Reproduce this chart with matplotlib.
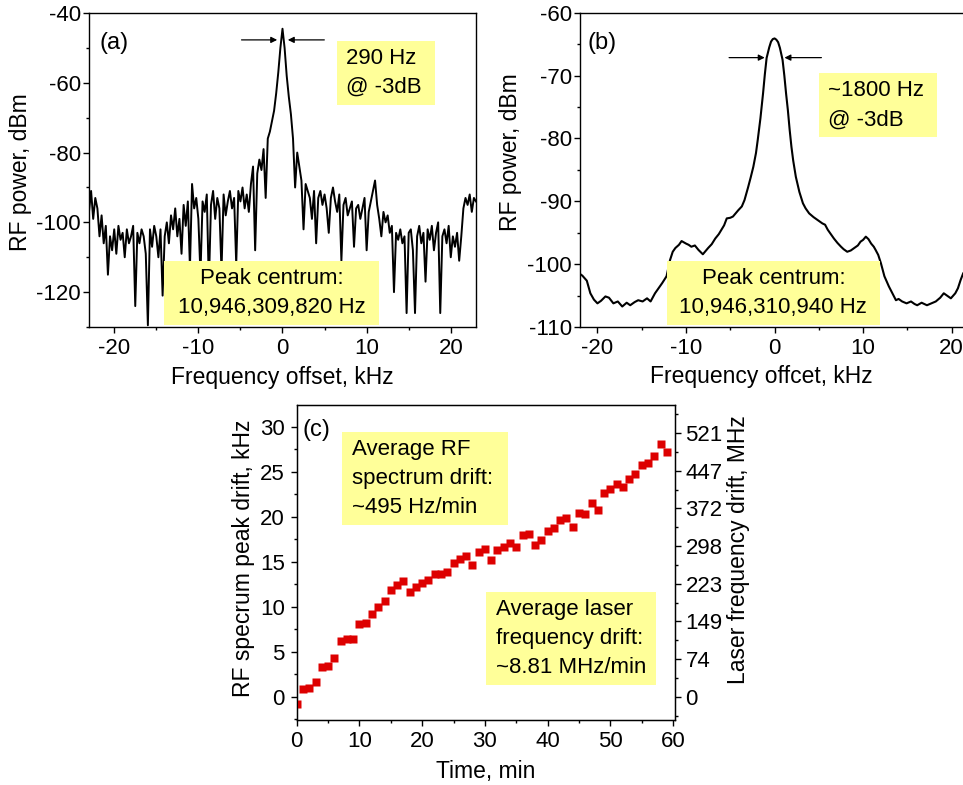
import matplotlib
matplotlib.use("Agg")
import matplotlib.pyplot as plt
import numpy as np
from matplotlib.ticker import MultipleLocator, FixedLocator
from matplotlib.patches import Rectangle

plt.rcParams['font.family'] = ['Liberation Sans', 'DejaVu Sans']
plt.rcParams['font.size'] = 16
plt.rcParams['axes.unicode_minus'] = False

# (a) RF spectrum, 0.25 kHz steps from -23 to 23 kHz
power_a = [
    -97, -91, -99, -93, -96, -104, -98, -106, -101, -115, -104, -108,
    -102, -109, -101, -105, -103, -110, -102, -106, -104, -101, -124, -103,
    -106, -102, -104, -109, -129.5, -102, -107, -101, -104, -110, -102, -121,
    -104, -100, -106, -98, -102, -96, -104, -99, -109, -95, -101, -94,
    -113, -89, -96, -93, -99, -115, -94, -97, -92, -118, -95, -91,
    -99, -93, -96, -114, -92, -98, -94, -91, -96, -93, -112, -91,
    -94, -90, -96, -92, -97, -89, -84, -108, -86, -82, -85, -79,
    -93, -76, -74, -71, -68, -63, -57, -50,
    -44.5,
    -50, -58, -64, -69, -76, -90, -80, -84, -88, -102, -89, -91,
    -93, -99, -91, -106, -93, -91, -95, -92, -96, -103, -93, -90,
    -94, -97, -92, -111, -95, -93, -98, -96, -94, -107, -96, -95,
    -99, -96, -93, -108, -97, -94, -91, -88, -95, -99, -104, -97,
    -100, -98, -103, -101, -120, -103, -105, -102, -106, -104, -126, -103,
    -102, -108, -126, -104, -101, -106, -103, -117, -102, -105, -101, -108,
    -103, -100, -126, -104, -102, -106, -101, -110, -104, -107, -103, -111,
    -104, -96, -93, -95, -92, -97, -93, -94,
]
freq_a = np.linspace(-23, 23, len(power_a))

# (b) RF spectrum
freq_b = [
    -22.0, -21.7, -21.2, -20.8, -20.4, -20.0, -19.6, -19.1, -18.7, -18.2,
    -17.7, -17.2, -16.7, -16.3, -15.8, -15.4, -14.9, -14.4, -14.0, -13.5,
    -13.1, -12.7, -12.2, -11.8, -11.5, -11.2, -10.8, -10.5, -10.0, -9.7,
    -9.4, -9.0, -8.6, -8.1, -7.8, -7.5, -7.1, -6.7, -6.3, -6.0,
    -5.7, -5.4, -5.0, -4.7, -4.4, -4.1, -3.7, -3.4, -3.0, -2.7,
    -2.4, -2.1, -1.9, -1.6, -1.3, -1.1, -0.9, -0.6, -0.4, -0.2,
    0.0, 0.2, 0.4, 0.6, 0.9, 1.1, 1.3, 1.5, 1.7, 1.9,
    2.1, 2.4, 2.8, 3.2, 3.5, 3.9, 4.4, 4.9, 5.4, 5.7,
    6.0, 6.4, 6.7, 7.1, 7.5, 7.8, 8.2, 8.6, 9.0, 9.4,
    9.7, 10.0, 10.3, 10.6, 10.9, 11.2, 11.4, 11.7, 12.0, 12.4,
    12.9, 13.3, 13.7, 14.0, 14.4, 14.9, 15.4, 15.8, 16.1, 16.6,
    17.2, 17.7, 18.2, 18.7, 19.1, 19.5, 19.9, 20.4, 20.7, 21.0,
    21.3, 21.7, 22.0,
]
power_b = [
    -101.5, -101.8, -102.6, -104.6, -105.6, -106.2, -105.8, -105.1, -105.3, -106.2,
    -105.9, -106.7, -106.1, -106.5, -106.0, -105.7, -105.9, -105.4, -105.9, -104.6,
    -103.8, -103.0, -101.9, -99.3, -98.0, -97.4, -96.9, -96.3, -96.7, -96.9,
    -97.2, -97.0, -97.7, -98.4, -97.9, -97.4, -96.8, -95.9, -95.2, -94.5,
    -93.8, -92.7, -92.6, -92.4, -91.9, -91.4, -90.8, -89.8, -87.8, -86.2,
    -84.5, -82.3, -80.2, -76.8, -72.8, -69.8, -67.2, -65.5, -64.6, -64.2,
    -64.1, -64.3, -64.7, -65.6, -67.5, -70.0, -72.9, -75.5, -78.6, -81.3,
    -83.5, -86.1, -88.5, -90.3, -91.1, -91.9, -92.5, -93.0, -93.5, -93.7,
    -94.5, -95.3, -95.9, -96.6, -97.2, -97.6, -98.0, -97.8, -97.4, -97.0,
    -96.4, -96.1, -95.6, -96.0, -96.7, -97.2, -97.7, -98.5, -99.8, -101.9,
    -103.5, -104.6, -105.7, -105.5, -105.9, -106.2, -105.9, -106.3, -106.5, -106.1,
    -106.5, -106.2, -105.9, -105.3, -104.6, -105.0, -105.4, -104.6, -103.8, -102.5,
    -101.4, -100.8, -100.2,
]

# (c) drift of the RF peak vs time
time_min = list(range(60))
drift_khz = [
    -0.85, 0.9, 1.0, 1.6, 3.3, 3.45, 4.35, 6.2, 6.4, 6.4,
    8.1, 8.2, 9.2, 10.0, 10.6, 11.8, 12.4, 12.8, 11.6, 12.2,
    12.6, 13.0, 13.6, 13.6, 13.9, 14.9, 15.3, 15.6, 14.6, 16.1,
    16.4, 15.2, 16.3, 16.6, 17.1, 16.6, 18.0, 18.05, 16.8, 17.4,
    18.4, 18.7, 19.6, 19.9, 18.8, 20.4, 20.3, 21.5, 20.7, 22.6,
    23.1, 23.6, 23.3, 24.2, 24.7, 25.7, 26.0, 26.7, 28.1, 27.2,
]
mhz_labels = ['0', '74', '149', '223', '298', '372', '447', '521']
mhz_step = 74.45
mhz_per_khz = 8.81 / 0.495

yellow = '#FFFF99'


def style(ax, pad=2):
    ax.tick_params(which='both', direction='out', top=False, right=False, width=1)
    ax.tick_params(which='major', length=4.5)
    ax.tick_params(which='minor', length=2.5)
    ax.tick_params(axis='y', pad=pad)
    for s in ax.spines.values():
        s.set_linewidth(1)


def note(ax, x0, y0, x1, y1, txt, tx, ty, ha='center'):
    ax.add_patch(Rectangle((x0, y0), x1 - x0, y1 - y0, transform=ax.transAxes,
                           facecolor=yellow, edgecolor='none', zorder=3, clip_on=False))
    ax.text(tx, ty, txt, transform=ax.transAxes, ha=ha, va='center',
            fontsize=16, linespacing=1.5, zorder=4)


fig = plt.figure(figsize=(9.63, 7.85), dpi=100)

# ---- (a)
ax1 = fig.add_axes([0.0924, 0.5834, 0.4019, 0.4])
ax1.plot(freq_a, power_a, color='black', lw=1.4)
ax1.set_xlim(-23, 23)
ax1.set_ylim(-130, -40)
ax1.xaxis.set_major_locator(MultipleLocator(10))
ax1.xaxis.set_minor_locator(MultipleLocator(5))
ax1.yaxis.set_major_locator(MultipleLocator(20))
ax1.yaxis.set_minor_locator(MultipleLocator(10))
style(ax1, pad=1.5)
ax1.set_xlabel('Frequency offset, kHz', fontsize=16.5)
ax1.xaxis.set_label_coords(0.5, -0.125)
ax1.set_ylabel('RF power, dBm', fontsize=16.5)
ax1.yaxis.set_label_coords(-0.147, 0.494)
ax1.text(0.028, 0.905, '(a)', transform=ax1.transAxes, fontsize=17, va='center')
ax1.annotate('', xy=(-0.3, -47.7), xytext=(-5.2, -47.7),
             arrowprops=dict(arrowstyle='-|>', color='black', lw=0.9, mutation_scale=9))
ax1.annotate('', xy=(0.3, -47.7), xytext=(5.3, -47.7),
             arrowprops=dict(arrowstyle='-|>', color='black', lw=0.9, mutation_scale=9))
note(ax1, 0.640, 0.707, 0.894, 0.912, '290 Hz\n@ -3dB', 0.665, 0.81, ha='left')
note(ax1, 0.194, 0.006, 0.749, 0.210, 'Peak centrum:\n10,946,309,820 Hz', 0.472, 0.108)

# ---- (b)
ax2 = fig.add_axes([0.602, 0.5831, 0.4047, 0.4008])
ax2.plot(freq_b, power_b, color='black', lw=1.5)
ax2.set_xlim(-22, 22)
ax2.set_ylim(-110, -60)
ax2.xaxis.set_major_locator(MultipleLocator(10))
ax2.xaxis.set_minor_locator(MultipleLocator(5))
ax2.yaxis.set_major_locator(MultipleLocator(10))
ax2.yaxis.set_minor_locator(MultipleLocator(5))
style(ax2, pad=1)
ax2.set_xlabel('Frequency offcet, kHz', fontsize=16.5)
ax2.xaxis.set_label_coords(0.467, -0.12)
ax2.set_ylabel('RF power, dBm', fontsize=16.5)
ax2.yaxis.set_label_coords(-0.148, 0.558)
ax2.text(0.02, 0.903, '(b)', transform=ax2.transAxes, fontsize=17, va='center')
ax2.annotate('', xy=(-0.8, -67.15), xytext=(-5.45, -67.15),
             arrowprops=dict(arrowstyle='-|>', color='black', lw=0.9, mutation_scale=9))
ax2.annotate('', xy=(0.8, -67.15), xytext=(5.6, -67.15),
             arrowprops=dict(arrowstyle='-|>', color='black', lw=0.9, mutation_scale=9))
note(ax2, 0.614, 0.604, 0.918, 0.807, '~1800 Hz\n@ -3dB', 0.638, 0.705, ha='left')
note(ax2, 0.223, 0.007, 0.771, 0.211, 'Peak centrum:\n10,946,310,940 Hz', 0.497, 0.109)

# ---- (c)
ax3 = fig.add_axes([0.3081, 0.0828, 0.3928, 0.4013])
ax3.plot(time_min, drift_khz, 's', color='#DD0000', ms=5.5, mec='none', zorder=5)
ax3.set_xlim(0, 60.3)
ax3.set_ylim(-2.59, 32.41)
ax3.xaxis.set_major_locator(MultipleLocator(10))
ax3.xaxis.set_minor_locator(MultipleLocator(5))
ax3.yaxis.set_major_locator(MultipleLocator(5))
ax3.yaxis.set_minor_locator(MultipleLocator(2.5))
style(ax3, pad=4)
ax3.set_xlabel('Time, min', fontsize=16.5)
ax3.xaxis.set_label_coords(0.5, -0.127)
ax3.set_ylabel('RF specrum peak drift, kHz', fontsize=16.5)
ax3.yaxis.set_label_coords(-0.110, 0.514)
ax3.text(0.016, 0.921, '(c)', transform=ax3.transAxes, fontsize=17, va='center')
note(ax3, 0.119, 0.619, 0.559, 0.913, 'Average RF\nspectrum drift:\n~495 Hz/min', 0.145, 0.766, ha='left')
note(ax3, 0.500, 0.111, 0.949, 0.405, 'Average laser\nfrequency drift:\n~8.81 MHz/min', 0.526, 0.258, ha='left')

ax4 = ax3.twinx()
lo, hi = ax3.get_ylim()
ax4.set_ylim(lo * mhz_per_khz, hi * mhz_per_khz)
ax4.yaxis.set_major_locator(FixedLocator([i * mhz_step for i in range(len(mhz_labels))]))
ax4.set_yticklabels(mhz_labels)
ax4.yaxis.set_minor_locator(FixedLocator([(i - 0.5) * mhz_step for i in range(len(mhz_labels) + 1)]))
ax4.tick_params(which='both', direction='out', width=1, pad=3)
ax4.tick_params(which='major', length=4.5)
ax4.tick_params(which='minor', length=2.5)
ax4.set_ylabel('Laser frequency drift, MHz', fontsize=16.5)
ax4.yaxis.set_label_coords(1.137, 0.54)

fig.savefig('out.png', dpi=100)
